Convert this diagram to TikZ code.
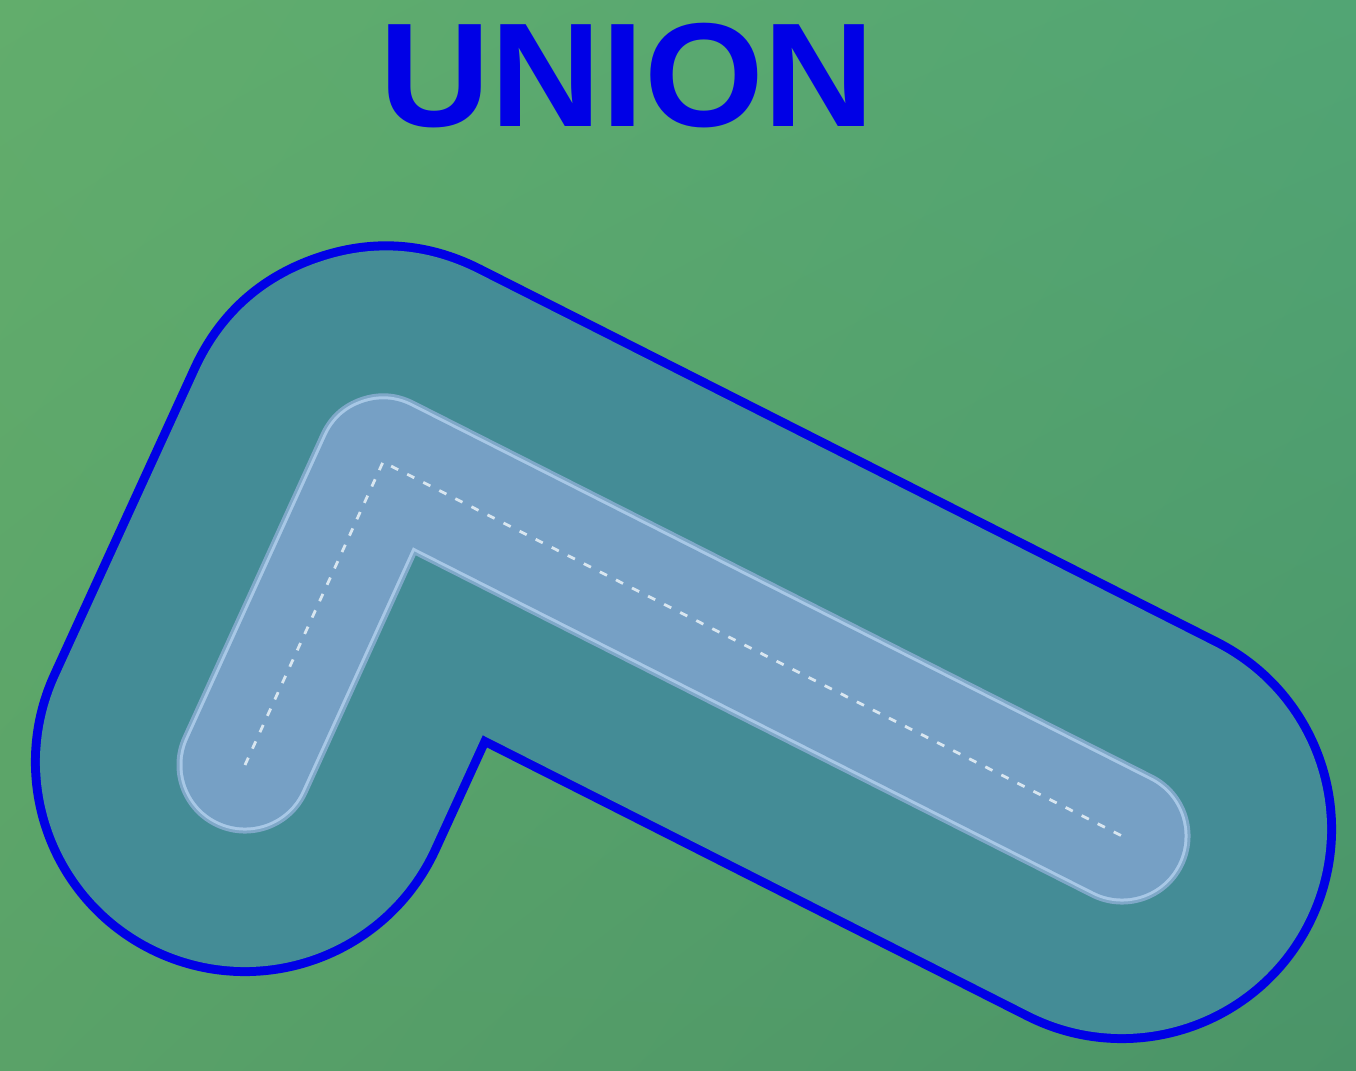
\documentclass[tikz,border=0pt]{standalone}
\usepackage{fontspec}
\setmainfont{Liberation Sans}
\usetikzlibrary{shadings}
\definecolor{bgA}{HTML}{62AD6C}
\definecolor{bgB}{HTML}{52A574}
\definecolor{bgC}{HTML}{5AA268}
\definecolor{bgD}{HTML}{4A9468}
\definecolor{outline}{HTML}{0000E6}
\definecolor{tealfill}{HTML}{448C96}
\definecolor{halo}{HTML}{7FA8C8}
\definecolor{innerline}{HTML}{A8C8E6}
\definecolor{innerfill}{HTML}{76A0C5}
\definecolor{centerline}{HTML}{D8E6F0}
\tikzset{
  outerband/.style={line width=428pt, draw=outline, line cap=round, line join=round},
  outerfill/.style={line width=410pt, draw=tealfill, line cap=round, line join=round},
  innerhalo/.style={line width=137pt, draw=halo, line cap=round, line join=round},
  innerband/.style={line width=131pt, draw=innerline, line cap=round, line join=round},
  innerfillst/.style={line width=125pt, draw=innerfill, line cap=round, line join=round},
  centerdash/.style={line width=2.8pt, draw=centerline, dash pattern=on 8pt off 10pt},
  titlestyle/.style={text=outline, font=\bfseries\fontsize{148}{148}\selectfont, anchor=base, inner sep=0pt, xscale=1.04}
}
\begin{document}
\begin{tikzpicture}[x=1pt,y=-1pt]
\useasboundingbox (0,0) rectangle (1356,1070);
\shade[upper left=bgA, upper right=bgB, lower left=bgC, lower right=bgD] (0,0) rectangle (1356,1070);
\coordinate (q1) at (245,762);
\coordinate (q2) at (385,456);
\coordinate (q3) at (1122,829);
\coordinate (p1) at (245,765);
\coordinate (p2) at (383,462);
\coordinate (p3) at (1122,836);
\draw[outerband] (q1) -- (q2) -- (q3);
\draw[outerfill] (q1) -- (q2) -- (q3);
\draw[innerhalo] (p1) -- (p2) -- (p3);
\draw[innerband] (p1) -- (p2) -- (p3);
\draw[innerfillst] (p1) -- (p2) -- (p3);
\draw[centerdash] (p1) -- (p2) -- (p3);
\node[titlestyle] (title) at (627,127) {UNION};
\end{tikzpicture}
\end{document}
